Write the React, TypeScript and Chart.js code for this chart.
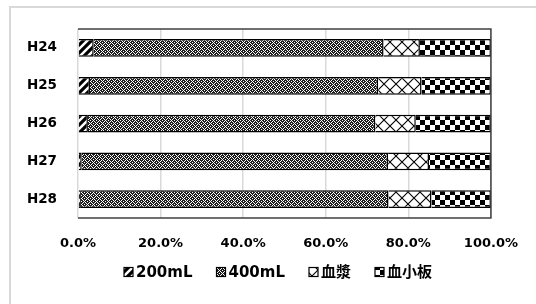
import React, { useEffect, useRef } from "react";
import { Chart, registerables } from "chart.js";
Chart.register(...registerables);

const categories = ["H24", "H25", "H26", "H27", "H28"];
const seriesNames = ["200mL", "400mL", "血漿", "血小板"];
const v200 = [3.8, 2.9, 2.4, 0.9, 0.7];
const v400 = [70.2, 69.8, 69.6, 74.2, 74.5];
const vPlasma = [8.8, 10.5, 9.8, 9.9, 10.4];
const vPlatelet = [17.2, 16.8, 18.2, 15.0, 14.4];
const xTicks = [0, 20, 40, 60, 80, 100];

function bitmapPattern(rows: string[], dark: string): CanvasPattern | string {
  const c = document.createElement("canvas");
  c.width = rows[0].length; c.height = rows.length;
  const g = c.getContext("2d")!;
  g.fillStyle = "#fff"; g.fillRect(0, 0, c.width, c.height);
  g.fillStyle = dark;
  rows.forEach((r, y) => {
    for (let x = 0; x < r.length; x++) if (r[x] === "#") g.fillRect(x, y, 1, 1);
  });
  return g.createPattern(c, "repeat") || dark;
}

function makePattern(kind: string): CanvasPattern | string {
  if (kind === "diamond") {
    return bitmapPattern(
      [".##.##", "##.#.#", "#.###.", ".##.##", "#.###.", "##.#.#"],
      "#1e1e1e"
    );
  }
  const c = document.createElement("canvas");
  const g = c.getContext("2d")!;
  if (kind === "stripe") {
    c.width = 8; c.height = 8;
    g.fillStyle = "#000"; g.fillRect(0, 0, 8, 8);
    g.strokeStyle = "#fff"; g.lineWidth = 2.5;
    g.beginPath();
    g.moveTo(-2, 10); g.lineTo(10, -2);
    g.moveTo(-6, 6); g.lineTo(6, -6);
    g.moveTo(2, 14); g.lineTo(14, 2);
    g.stroke();
  } else if (kind === "cross") {
    c.width = 12; c.height = 12;
    g.fillStyle = "#fff"; g.fillRect(0, 0, 12, 12);
    g.strokeStyle = "#000"; g.lineWidth = 1.1;
    g.beginPath();
    g.moveTo(0, 0); g.lineTo(12, 12);
    g.moveTo(12, 0); g.lineTo(0, 12);
    g.stroke();
  } else {
    c.width = 10; c.height = 10;
    g.fillStyle = "#fff"; g.fillRect(0, 0, 10, 10);
    g.fillStyle = "#000";
    g.fillRect(0, 0, 5, 5); g.fillRect(5, 5, 5, 5);
  }
  return g.createPattern(c, "repeat") || "#000";
}

const FONT = "'DejaVu Sans', 'Noto Sans CJK JP', sans-serif";

const decoPlugin = {
  id: "deco",
  beforeDraw(chart: any) {
    const ctx = chart.ctx;
    ctx.save();
    ctx.fillStyle = "#fff";
    ctx.fillRect(0, 0, chart.width, chart.height);
    ctx.fillStyle = "#d9d9d9";
    ctx.fillRect(10, 6, chart.width - 10, 2);
    ctx.fillRect(9, 6, 2, chart.height - 6);
    ctx.restore();
  },
  afterDatasetsDraw(chart: any) {
    const ctx = chart.ctx;
    const a = chart.chartArea;
    ctx.save();
    ctx.strokeStyle = "#404040";
    ctx.lineWidth = 1.5;
    ctx.beginPath();
    ctx.moveTo(a.left, a.top);
    ctx.lineTo(a.right, a.top);
    ctx.lineTo(a.right, a.bottom);
    ctx.lineTo(a.left, a.bottom);
    ctx.stroke();
    ctx.restore();
  },
  afterDraw(chart: any) {
    const ctx = chart.ctx;
    const ds = chart.data.datasets;
    ctx.save();
    ctx.font = "bold 15px " + FONT;
    const box = 9, gap = 3, itemGap = 24;
    const widths = ds.map((d: any) => box + gap + ctx.measureText(d.label).width);
    const total = widths.reduce((s: number, w: number) => s + w, 0) + itemGap * (ds.length - 1);
    let x = Math.round(277.5 - total / 2);
    const y = 272;
    ds.forEach((d: any, i: number) => {
      ctx.fillStyle = d.backgroundColor;
      ctx.fillRect(x, y - 4.5, box, box);
      ctx.strokeStyle = "#000";
      ctx.lineWidth = 1.2;
      ctx.strokeRect(x, y - 4.5, box, box);
      ctx.fillStyle = "#000";
      ctx.textBaseline = "middle";
      ctx.textAlign = "left";
      ctx.fillText(d.label, x + box + gap, y + 1);
      x += widths[i] + itemGap;
    });
    ctx.restore();
  },
};

export default function App() {
  const ref = useRef<HTMLCanvasElement>(null);
  useEffect(() => {
    document.body.style.margin = "0";
    const kinds = ["stripe", "diamond", "cross", "checker"];
    const values = [v200, v400, vPlasma, vPlatelet];
    const chart = new Chart(ref.current!, {
      type: "bar",
      data: {
        labels: categories,
        datasets: seriesNames.map((name, i) => ({
          label: name,
          data: values[i],
          backgroundColor: makePattern(kinds[i]) as any,
          borderColor: "#000",
          borderWidth: 1.5,
          barPercentage: 0.47,
          categoryPercentage: 1,
        })),
      },
      options: {
        indexAxis: "y",
        animation: false,
        responsive: true,
        maintainAspectRatio: false,
        layout: { padding: { left: 20, right: 41, top: 29, bottom: 46 } },
        plugins: { legend: { display: false }, tooltip: { enabled: false } },
        scales: {
          x: {
            stacked: true,
            min: 0,
            max: 100,
            afterBuildTicks(scale: any) {
              scale.ticks = xTicks.map((v) => ({ value: v }));
            },
            afterFit(scale: any) { scale.height = 40; },
            grid: { color: "#d9d9d9", lineWidth: 1.5, drawTicks: false },
            border: { display: false },
            ticks: {
              padding: 18,
              color: "#000",
              font: { family: FONT, size: 13, weight: "bold" },
              callback: (v: any) => Number(v).toFixed(1) + "%",
            },
          },
          y: {
            stacked: true,
            afterFit(scale: any) { scale.width = 58; },
            grid: { display: false, drawTicks: false },
            border: { display: false },
            ticks: {
              padding: 21,
              color: "#000",
              font: { family: FONT, size: 13.5, weight: "bold" },
            },
          },
        },
      },
      plugins: [decoPlugin],
    });
    return () => chart.destroy();
  }, []);
  return (
    <div style={{ width: 536, height: 304, position: "relative" }}>
      <canvas ref={ref} />
    </div>
  );
}
